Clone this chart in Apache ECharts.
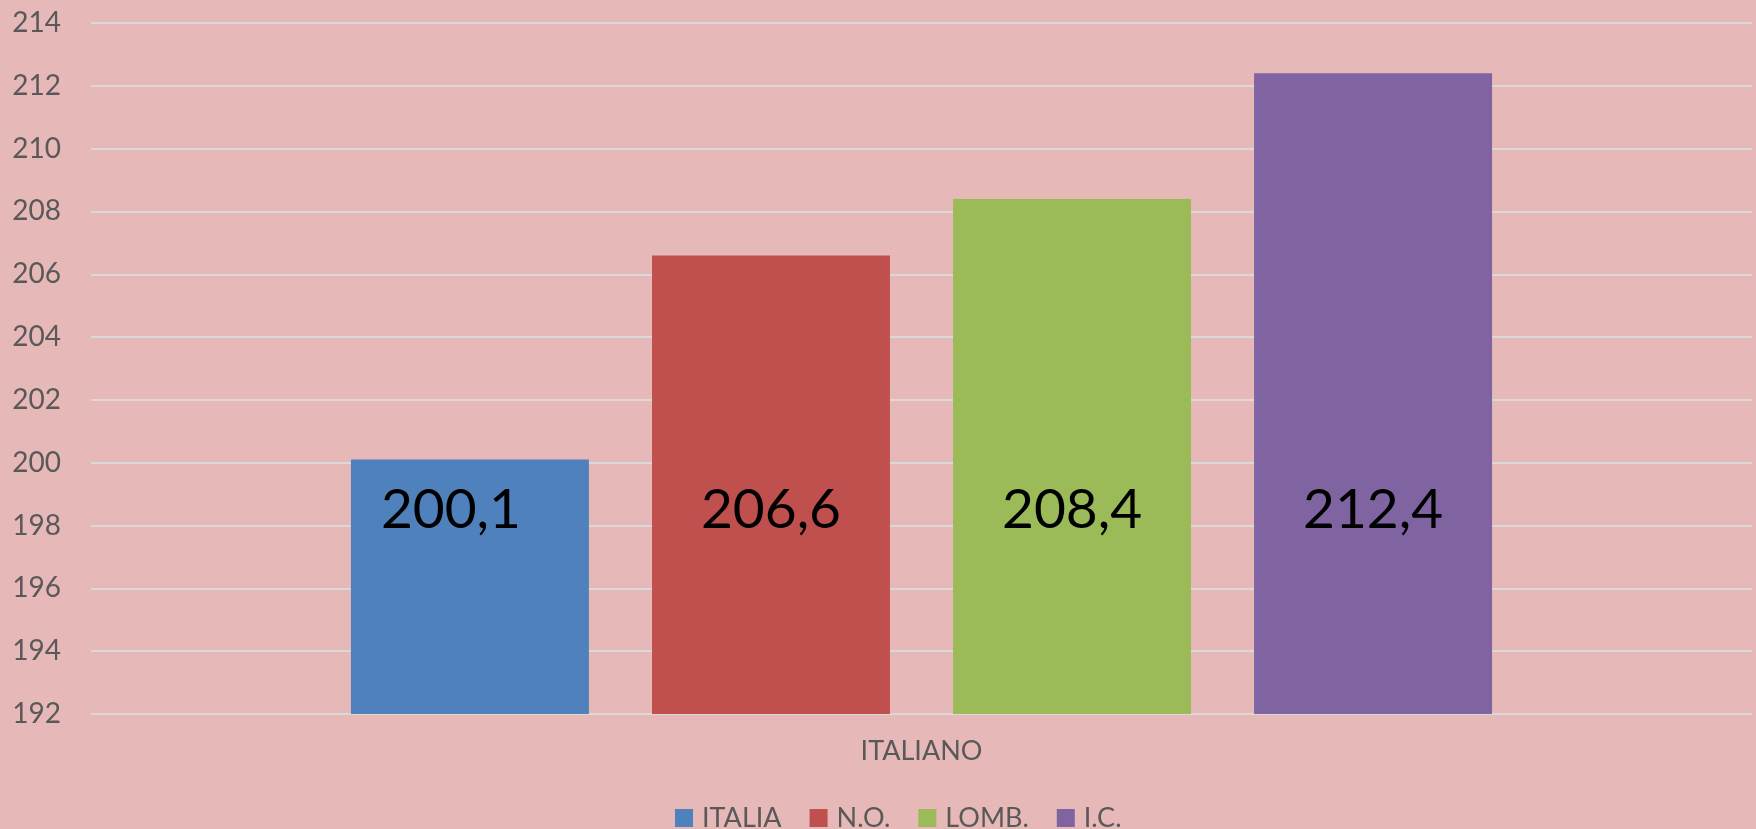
<!DOCTYPE html>
<html>
<head>
<meta charset="utf-8">
<script src="https://cdn.jsdelivr.net/npm/echarts@6/dist/echarts.min.js"></script>
<style>
  html, body { margin: 0; padding: 0; background: #E6B8B7; }
  #main { width: 1756px; height: 829px; }
</style>
</head>
<body>
<div id="main"></div>
<script>
  // dati
  var categories = ['ITALIANO'];
  var seriesNames = ['ITALIA', 'N.O.', 'LOMB.', 'I.C.'];
  var seriesValues = [200.1, 206.6, 208.4, 212.4];
  var colors = ['#4F81BD', '#C0504D', '#9BBB59', '#8064A2'];
  var yMin = 192, yMax = 214, yStep = 2;

  var chart = echarts.init(document.getElementById('main'));

  var series = seriesNames.map(function (name, i) {
    return {
      name: name,
      type: 'bar',
      data: [seriesValues[i]],
      itemStyle: { color: colors[i] },
      barGap: '26.5%',
      barCategoryGap: '31.3%',
      label: {
        show: true,
        position: 'insideBottom',
        distance: 174,
        offset: i === 0 ? [-19, 0] : [0, 0],
        fontFamily: 'Lato',
        fontSize: 55,
        lineHeight: 60,
        color: '#000',
        formatter: function (p) {
          return String(p.value).replace('.', ',');
        }
      }
    };
  });

  var option = {
    backgroundColor: '#E6B8B7',
    animation: false,
    textStyle: { fontFamily: 'Lato' },
    grid: { left: 91, right: 4, top: 23, bottom: 115 },
    legend: {
      data: seriesNames,
      top: 799,
      left: 670,
      itemWidth: 18,
      itemHeight: 18,
      itemGap: 28,
      icon: 'rect',
      textStyle: { fontSize: 27, color: '#595959', lineHeight: 28, padding: [0, 0, 0, 4], fontFamily: 'Lato' }
    },
    xAxis: {
      type: 'category',
      data: categories,
      axisLine: { show: false },
      axisTick: { show: false },
      axisLabel: { margin: 24, fontSize: 27, color: '#595959', fontFamily: 'Lato' }
    },
    yAxis: {
      type: 'value',
      min: yMin,
      max: yMax,
      interval: yStep,
      axisLine: { show: false },
      axisTick: { show: false },
      axisLabel: { margin: 30, fontSize: 28, color: '#595959', fontFamily: 'Lato' },
      splitLine: { lineStyle: { color: '#D9D9D9', width: 2 } }
    },
    series: series
  };

  chart.setOption(option);
</script>
</body>
</html>
